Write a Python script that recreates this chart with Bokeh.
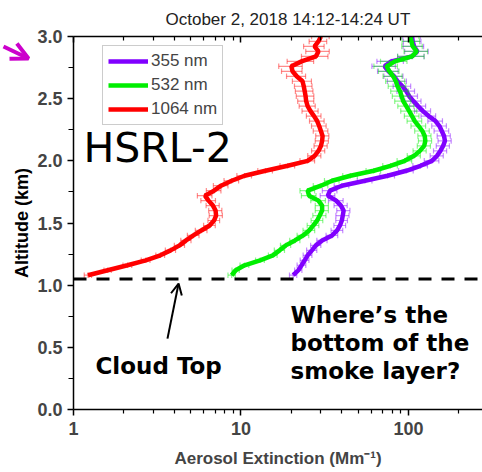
import math
from bokeh.plotting import figure
from bokeh.layouts import row
from bokeh.models import (LogAxis, FixedTicker, Label, Arrow, OpenHead, Span,
                          Legend, LegendItem, ColumnDataSource, Range1d,
                          NumeralTickFormatter)
from bokeh.embed import file_html
from bokeh.resources import INLINE

# ---------------- data ----------------
altitude_km = [1.08, 1.12, 1.16, 1.20, 1.24, 1.28, 1.32, 1.36, 1.40, 1.44,
               1.48, 1.52, 1.56, 1.60, 1.64, 1.68, 1.72, 1.76, 1.80, 1.84,
               1.88, 1.92, 1.96, 2.00, 2.04, 2.08, 2.12, 2.16, 2.20, 2.24,
               2.28, 2.32, 2.36, 2.40, 2.44, 2.48, 2.52, 2.56, 2.60, 2.64,
               2.68, 2.72, 2.76, 2.80, 2.84, 2.88, 2.92, 2.96, 3.00]

ext_355 = [20.5, 22, 23, 24, 25, 26.5, 28, 30.5, 35, 37.5,
           39, 40, 40.5, 41, 39.5, 37, 33, 34, 40, 55,
           75, 97, 118, 138, 148, 155, 161, 165, 163, 158,
           153, 145, 132, 122, 114, 107, 101, 97, 92, 86,
           82, 76, 72, 79, 105, 113, 108, 106, 105]

ext_532 = [8.8, 9.3, 10.5, 13, 15.5, 17, 18.5, 21, 23.5, 25.5,
           27, 28.5, 29.5, 30.5, 30.5, 29, 25.5, 25, 30, 35,
           45, 62, 78, 95, 108, 117, 124, 126, 125, 121,
           115, 109, 105, 101, 97, 93, 91, 89, 86, 84,
           81, 77, 74, 83, 105, 112, 106, 104, 103]

ext_1064 = [1.22, 1.6, 2.1, 2.7, 3.3, 3.8, 4.3, 4.7, 5.2, 5.8,
            6.5, 6.9, 7.1, 7.05, 6.8, 6.4, 6.1, 6.9, 7.6, 8.8,
            10.5, 14, 19, 25, 27.5, 29, 30, 30.5, 30.7, 30,
            29.3, 28.5, 27.3, 26, 25, 24.5, 24.3, 24, 23.7, 23.3,
            21.5, 20.3, 20, 23, 28, 29, 27.5, 29, 30]

rel_err = [0.05, 0.05, 0.06, 0.06, 0.06, 0.07, 0.07, 0.07, 0.08, 0.08,
           0.08, 0.08, 0.09, 0.09, 0.09, 0.10, 0.10, 0.10, 0.10, 0.10,
           0.10, 0.10, 0.10, 0.10, 0.09, 0.09, 0.09, 0.09, 0.09, 0.10,
           0.10, 0.10, 0.10, 0.11, 0.11, 0.11, 0.12, 0.12, 0.12, 0.13,
           0.13, 0.14, 0.16, 0.18, 0.18, 0.16, 0.14, 0.12, 0.12]

series_names = ["355 nm", "532 nm", "1064 nm"]
series_colors = ["#8000FF", "#00EE00", "#FF0000"]
cloud_top_km = 1.05

x_ticks = [1, 10, 100]
x_tick_labels = {1: "1", 10: "10", 100: "100"}
x_minor = [2, 3, 4, 5, 6, 7, 8, 9, 20, 30, 40, 50, 60, 70, 80, 90, 200]
y_ticks = [0.0, 0.5, 1.0, 1.5, 2.0, 2.5, 3.0]
y_minor = [0.25, 0.75, 1.25, 1.75, 2.25, 2.75]

title_text = "October 2, 2018 14:12-14:24 UT"
y_label_text = "Altitude (km)"

FONT = "Liberation Sans"
SIDE_W = 33

# ---------------- main figure ----------------
p = figure(width=482 - SIDE_W, height=472, x_axis_type="log",
           x_range=Range1d(1, 276.6), y_range=Range1d(0, 3),
           output_backend="svg", toolbar_location=None)
p.min_border_left = 73 - SIDE_W
p.min_border_right = 0
p.min_border_top = 36
p.min_border_bottom = 63
p.outline_line_color = None
p.xgrid.visible = False
p.ygrid.visible = False
p.background_fill_color = "white"
p.border_fill_color = "white"

p.title.text = title_text
p.title.align = "left"
p.title.offset = 92
p.title.text_font = FONT
p.title.text_font_style = "normal"
p.title.text_font_size = "17px"
p.title.text_color = "#222222"
p.title.standoff = 15

xa = p.xaxis[0]
xa.ticker = FixedTicker(ticks=x_ticks, minor_ticks=x_minor)
xa.major_label_overrides = x_tick_labels
xa.axis_label = "Aerosol Extinction (Mm\u207B\u00B9)"
xa.axis_label_text_font = FONT
xa.axis_label_text_font_style = "bold"
xa.axis_label_text_font_size = "17px"
xa.axis_label_standoff = 11
xa.major_label_text_font = FONT
xa.major_label_text_font_style = "bold"
xa.major_label_text_font_size = "18px"
xa.major_label_standoff = 6
xa.major_tick_out = 6
xa.major_tick_in = 0
xa.minor_tick_out = 4
xa.minor_tick_in = 0
xa.axis_line_width = 1.5
xa.major_tick_line_width = 1.5
xa.minor_tick_line_width = 1.2

ya = p.yaxis[0]
ya.ticker = FixedTicker(ticks=y_ticks, minor_ticks=y_minor)
ya.formatter = NumeralTickFormatter(format="0.0")
ya.major_label_text_font = FONT
ya.major_label_text_font_style = "bold"
ya.major_label_text_font_size = "18px"
ya.major_label_standoff = 5
ya.major_tick_out = 6
ya.major_tick_in = 0
ya.minor_tick_out = 5
ya.minor_tick_in = 0
ya.axis_line_width = 1.5
ya.major_tick_line_width = 1.5
ya.minor_tick_line_width = 1.2

top = LogAxis(ticker=FixedTicker(ticks=x_ticks, minor_ticks=x_minor),
              major_label_overrides={1: "", 10: "", 100: ""},
              major_label_text_font_size="8px", major_label_standoff=0,
              major_tick_in=6, major_tick_out=0, minor_tick_in=4, minor_tick_out=0,
              axis_line_width=1.5, major_tick_line_width=1.5, minor_tick_line_width=1.2)
p.add_layout(top, "above")

# ---------------- profiles ----------------
legend_items = []
for name, vals, col in zip(series_names, [ext_355, ext_532, ext_1064], series_colors):
    lo = [v * (1 - e) for v, e in zip(vals, rel_err)]
    hi = [v * (1 + e) for v, e in zip(vals, rel_err)]
    src = ColumnDataSource(dict(y=altitude_km, x=vals, lo=lo, hi=hi,
                                y0=[a - 0.022 for a in altitude_km],
                                y1=[a + 0.022 for a in altitude_km]))
    for xs0, ys0, xs1, ys1 in [("lo", "y", "hi", "y"), ("lo", "y0", "lo", "y1"),
                               ("hi", "y0", "hi", "y1"), ("x", "y0", "x", "y1")]:
        p.segment(x0=xs0, y0=ys0, x1=xs1, y1=ys1, source=src,
                  line_color=col, line_alpha=0.45, line_width=1.2)
    r = p.line(x="x", y="y", source=src, line_color=col, line_width=4.5)
    legend_items.append(LegendItem(label=name, renderers=[r]))

legend = Legend(items=legend_items, location=(29, 284),
                label_text_font=FONT, label_text_font_size="17px",
                glyph_width=40, glyph_height=20, label_height=20,
                label_standoff=3, spacing=4, padding=5, margin=0,
                border_line_color="#999999", border_line_width=1,
                background_fill_color="white", background_fill_alpha=1)
p.add_layout(legend, "center")

p.add_layout(Span(location=cloud_top_km, dimension="width", line_color="black",
                  line_width=3, line_dash="13 10"))

p.add_layout(Label(x=1.147, y=2.107, text="HSRL-2", text_align="left",
                   text_baseline="alphabetic", text_font="DejaVu Sans",
                   text_font_size="41px", text_color="black"))

p.add_layout(Label(x=1.353, y=0.346, text="Cloud Top", text_align="left",
                   text_baseline="alphabetic", text_font="DejaVu Sans",
                   text_font_style="bold", text_font_size="23px", text_color="black"))

for txt, yy in [("Where\u2019s the", 0.758), ("bottom of the", 0.532),
                ("smoke layer?", 0.307)]:
    p.add_layout(Label(x=19.75, y=yy, text=txt, text_align="left",
                       text_baseline="alphabetic", text_font="DejaVu Sans",
                       text_font_style="bold", text_font_size="23px",
                       text_color="black"))

p.add_layout(Arrow(end=OpenHead(size=11, line_width=2, line_color="black"),
                   x_start=3.64, y_start=0.57, x_end=4.24, y_end=1.013,
                   line_width=2, line_color="black"))

# ---------------- left strip: y-axis title and magenta pointer ----------------
side = figure(width=SIDE_W, height=472, x_range=Range1d(0, SIDE_W),
              y_range=p.y_range, x_axis_location=None, y_axis_location=None,
              output_backend="svg", toolbar_location=None)
side.min_border_left = 0
side.min_border_right = 0
side.min_border_top = 36
side.min_border_bottom = 63
side.outline_line_color = None
side.grid.visible = False
side.background_fill_color = "white"
side.border_fill_color = "white"

side.add_layout(Label(x=21.5, y=1.5, text=y_label_text, angle=math.pi / 2,
                      text_align="center", text_baseline="middle",
                      text_font=FONT, text_font_style="bold",
                      text_font_size="18px", text_color="black"))

side.add_layout(Arrow(end=OpenHead(size=17, line_width=4, line_color="#CC00CC"),
                      x_start=3, y_start=2.92, x_end=28, y_end=2.823,
                      line_width=4, line_color="#CC00CC"))

layout = row(side, p, spacing=0)
open("out.html", "w").write(file_html(layout, INLINE))
